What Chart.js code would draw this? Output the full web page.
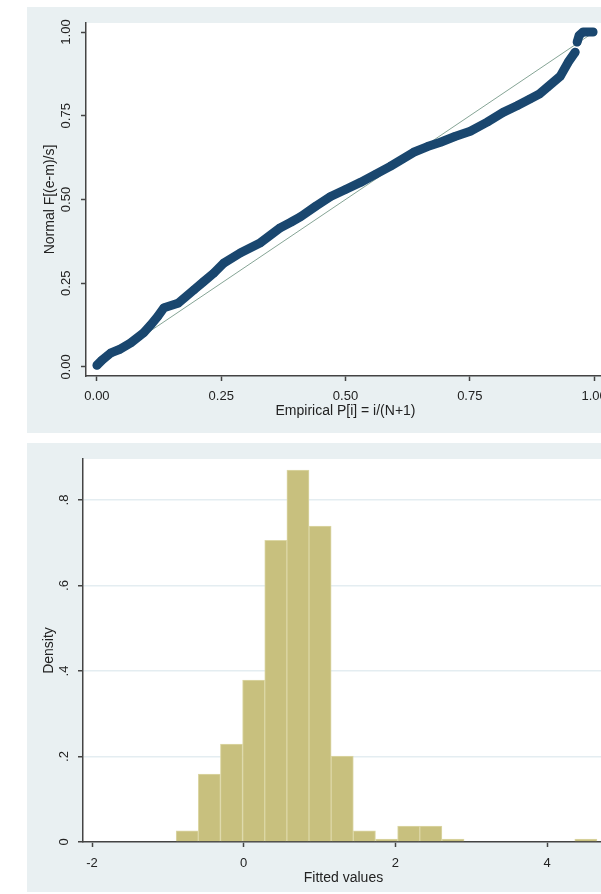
<!DOCTYPE html>
<html>
<head>
<meta charset="utf-8">
<script src="https://cdn.jsdelivr.net/npm/chart.js@4.4.0/dist/chart.umd.min.js"></script>
<style>
html, body { margin: 0; padding: 0; background: #fff; overflow: hidden; width: 601px; height: 894px; }
canvas { position: absolute; background: #e9f0f2; }
#qq { left: 27px; top: 7px; }
#hist { left: 27px; top: 443px; }
</style>
</head>
<body>
<canvas id="qq" width="600" height="426"></canvas>
<canvas id="hist" width="600" height="449"></canvas>
<script>
// normal probability plot
const qqEmpirical = [0.000, 0.010, 0.028, 0.045, 0.068, 0.094, 0.108, 0.122, 0.135, 0.163, 0.195, 0.215,
    0.235, 0.255, 0.289, 0.329, 0.369, 0.390, 0.410, 0.440, 0.470, 0.500, 0.530, 0.560, 0.590, 0.637,
    0.665, 0.691, 0.720, 0.751, 0.785, 0.817, 0.845, 0.871, 0.890, 0.906, 0.932, 0.948, 0.962];
const qqNormal = [0.005, 0.020, 0.042, 0.052, 0.072, 0.102, 0.125, 0.150, 0.177, 0.190, 0.230, 0.255,
    0.280, 0.310, 0.341, 0.371, 0.416, 0.432, 0.449, 0.480, 0.509, 0.530, 0.551, 0.575, 0.599, 0.641,
    0.658, 0.671, 0.688, 0.704, 0.731, 0.760, 0.780, 0.800, 0.815, 0.835, 0.868, 0.910, 0.940];
const qqTopEmpirical = [0.966, 0.970, 0.978, 0.998];
const qqTopNormal = [0.970, 0.990, 1.000, 1.000];
const refLine = [0, 1];
const qqTicks = [0, 0.25, 0.5, 0.75, 1];

// histogram of fitted values
const binCenters = [-0.745, -0.453, -0.161, 0.131, 0.423, 0.715, 1.007, 1.299, 1.591, 1.883,
    2.175, 2.467, 2.759, 3.051, 3.343, 3.635, 3.927, 4.219, 4.511];
const density = [0.026, 0.159, 0.229, 0.379, 0.706, 0.870, 0.739, 0.201, 0.026, 0.007,
    0.037, 0.037, 0.007, 0, 0, 0, 0, 0, 0.007];
const histXTicks = [-2, 0, 2, 4];
const histYTicks = [0, 0.2, 0.4, 0.6, 0.8];

Chart.defaults.font.family = '"Liberation Sans", Arial, sans-serif';
Chart.defaults.color = '#222';

const plotBg = {
    id: 'plotBg',
    beforeDraw(chart) {
        const { ctx, chartArea: a } = chart;
        ctx.save();
        ctx.fillStyle = '#fff';
        ctx.fillRect(a.left, a.top, a.right - a.left, a.bottom - a.top);
        ctx.restore();
    },
};

const axisLine = { color: '#444', width: 1.5 };
const setTicks = (list) => (s) => { s.ticks = list.map((v) => ({ value: v })); };

const qqStyle = {
    showLine: true,
    borderColor: '#1a476f',
    backgroundColor: '#1a476f',
    borderWidth: 9,
    borderCapStyle: 'round',
    borderJoinStyle: 'round',
    pointRadius: 4,
    pointBorderWidth: 0,
    order: 0,
};

new Chart(document.getElementById('qq'), {
    type: 'scatter',
    data: {
        datasets: [
            { ...qqStyle, data: qqEmpirical.map((x, i) => ({ x, y: qqNormal[i] })) },
            { ...qqStyle, data: qqTopEmpirical.map((x, i) => ({ x, y: qqTopNormal[i] })) },
            {
                data: refLine.map((v) => ({ x: v, y: v })),
                showLine: true,
                borderColor: '#86a596',
                borderWidth: 1,
                pointRadius: 0,
                order: 1,
            },
        ],
    },
    options: {
        responsive: false,
        animation: false,
        layout: { padding: { top: 16, right: 22, bottom: 0, left: 0 } },
        plugins: { legend: { display: false }, tooltip: { enabled: false } },
        scales: {
            x: {
                type: 'linear', min: -0.022, max: 1.022,
                afterBuildTicks: setTicks(qqTicks),
                afterFit: (s) => { s.height = 57; },
                ticks: { font: { size: 13 }, padding: 8, maxRotation: 0, callback: (v) => v.toFixed(2) },
                grid: { drawOnChartArea: false, tickLength: 5, tickColor: '#444', tickWidth: 1.5 },
                border: axisLine,
                title: { display: true, text: 'Empirical P[i] = i/(N+1)', font: { size: 14 }, padding: { top: 0, bottom: 13 } },
            },
            y: {
                type: 'linear', min: -0.027, max: 1.027,
                afterBuildTicks: setTicks(qqTicks),
                afterFit: (s) => { s.width = 59; },
                ticks: { font: { size: 13 }, minRotation: 90, maxRotation: 90, crossAlign: 'center', padding: 2, callback: (v) => v.toFixed(2) },
                grid: { drawOnChartArea: false, tickLength: 5, tickColor: '#444', tickWidth: 1.5 },
                border: axisLine,
                title: { display: true, text: 'Normal F[(e-m)/s]', font: { size: 14 }, padding: { top: 15, bottom: 0 } },
            },
        },
    },
    plugins: [plotBg],
});

new Chart(document.getElementById('hist'), {
    type: 'bar',
    data: {
        datasets: [{
            data: binCenters.map((x, i) => ({ x, y: density[i] })),
            backgroundColor: '#c8c07e',
            borderColor: '#dcd7a6',
            borderWidth: 1,
            barPercentage: 1,
            categoryPercentage: 1,
        }],
    },
    options: {
        responsive: false,
        animation: false,
        layout: { padding: { top: 16, right: 23, bottom: 0, left: 0 } },
        plugins: { legend: { display: false }, tooltip: { enabled: false } },
        scales: {
            x: {
                type: 'linear', min: -2.119, max: 4.75, offset: false,
                afterBuildTicks: setTicks(histXTicks),
                afterFit: (s) => { s.height = 50; },
                ticks: { font: { size: 13 }, padding: 9, maxRotation: 0 },
                grid: { offset: false, drawOnChartArea: false, tickLength: 5, tickColor: '#444', tickWidth: 1.5 },
                border: axisLine,
                title: { display: true, text: 'Fitted values', font: { size: 14 }, padding: { top: 0, bottom: 5 } },
            },
            y: {
                type: 'linear', min: 0, max: 0.896,
                afterBuildTicks: setTicks(histYTicks),
                afterFit: (s) => { s.width = 56; },
                ticks: {
                    font: { size: 13 }, minRotation: 90, maxRotation: 90, crossAlign: 'center', padding: 8,
                    callback: (v) => (v === 0 ? '0' : v.toFixed(1).replace(/^0/, '')),
                },
                grid: { color: '#e4edf1', lineWidth: 1.5, tickLength: 5, tickColor: '#444', tickWidth: 1.5 },
                border: axisLine,
                title: { display: true, text: 'Density', font: { size: 14 }, padding: { top: 14, bottom: 0 } },
            },
        },
    },
    plugins: [plotBg],
});
</script>
</body>
</html>
